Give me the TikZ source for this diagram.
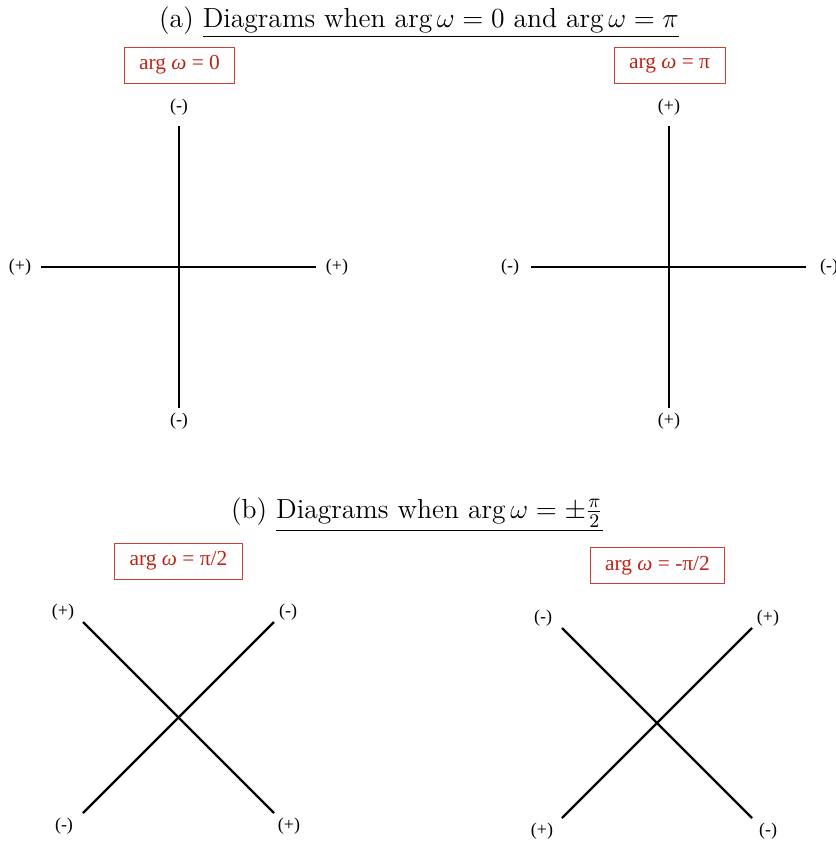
\RequirePackage{fix-cm}
\documentclass[tikz,border=0pt]{standalone}
\usepackage{fontspec}
\newfontfamily\tnr{Liberation Serif}
\usepackage{xcolor}
\usepackage{tikz}
\usetikzlibrary{positioning}
\definecolor{argred}{RGB}{190,36,24}
\definecolor{argframe}{RGB}{204,64,52}
\tikzset{
  axis/.style={line width=1.2pt, black},
  sign/.style={font=\tnr\fontsize{9}{10}\selectfont, inner sep=1pt},
  argbox/.style={draw=argframe, text=argred, font=\tnr\fontsize{10.7}{12}\selectfont, line width=0.45pt, minimum height=18pt, inner xsep=7.5pt, inner ysep=2pt},
  heading/.style={font=\fontsize{13.8}{16}\selectfont, anchor=base, inner sep=0pt}
}

\begin{document}
\begin{tikzpicture}[x=0.5pt, y=-0.5pt]
  \useasboundingbox (0,0) rectangle (835,845);

  % (a) arg = 0 and arg = pi
  \node[heading] (titleA) at (419,28) {(a) \underline{Diagrams when $\arg\omega=0$ and $\arg\omega=\pi$}};
  \node[argbox] (boxZero) at (179.5,65) {arg {\itshape ω} = 0};
  \node[argbox] (boxPi) at (669.5,65) {arg {\itshape ω} = π};

  \coordinate (zN) at (179,126);
  \coordinate (zS) at (179,408);
  \coordinate (zW) at (41,267);
  \coordinate (zE) at (316,267);
  \node[sign] (zNl) at (179,107) {(-)};
  \node[sign] (zSl) at (179,421) {(-)};
  \node[sign] (zWl) at (20,267) {(+)};
  \node[sign] (zEl) at (337,267) {(+)};
  \draw[axis] (zN) -- (zS);
  \draw[axis] (zW) -- (zE);

  \coordinate (pN) at (669,126);
  \coordinate (pS) at (669,408);
  \coordinate (pW) at (531,267);
  \coordinate (pE) at (806,267);
  \node[sign] (pNl) at (669,107) {(+)};
  \node[sign] (pSl) at (669,421) {(+)};
  \node[sign] (pWl) at (510,267) {(-)};
  \node[sign] (pEl) at (829,267) {(-)};
  \draw[axis] (pN) -- (pS);
  \draw[axis] (pW) -- (pE);

  % (b) arg = +/- pi/2
  \node[heading] (titleB) at (417,518) {(b) \underline{Diagrams when $\arg\omega=\pm\frac{\pi}{2}$}};
  \node[argbox] (boxHalf) at (178.5,561) {arg {\itshape ω} = π/2};
  \node[argbox] (boxNegHalf) at (657.5,565.5) {arg {\itshape ω} = -π/2};

  \coordinate (hNW) at (83,622);
  \coordinate (hNE) at (274,622);
  \coordinate (hSW) at (83,813);
  \coordinate (hSE) at (274,813);
  \node[sign] (hNWl) at (63,612) {(+)};
  \node[sign] (hNEl) at (288,612) {(-)};
  \node[sign] (hSWl) at (64,826) {(-)};
  \node[sign] (hSEl) at (289,826) {(+)};
  \draw[axis] (hNW) -- (hSE);
  \draw[axis] (hNE) -- (hSW);

  \coordinate (nNW) at (562,628);
  \coordinate (nNE) at (752,628);
  \coordinate (nSW) at (562,818);
  \coordinate (nSE) at (752,818);
  \node[sign] (nNWl) at (543,618) {(-)};
  \node[sign] (nNEl) at (768,618) {(+)};
  \node[sign] (nSWl) at (542,831) {(+)};
  \node[sign] (nSEl) at (768,831) {(-)};
  \draw[axis] (nNW) -- (nSE);
  \draw[axis] (nNE) -- (nSW);
\end{tikzpicture}
\end{document}
